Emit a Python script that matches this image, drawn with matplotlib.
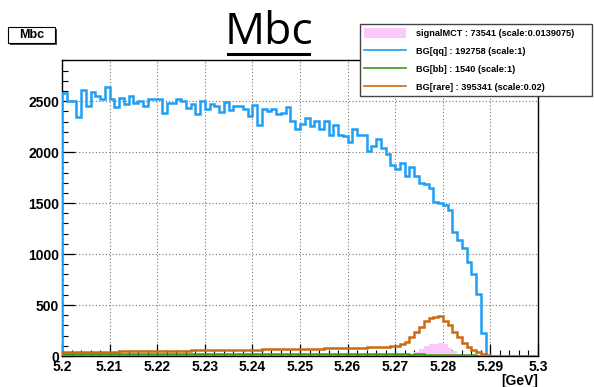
import numpy as np
import matplotlib
matplotlib.use("Agg")
import matplotlib.pyplot as plt
from matplotlib.ticker import MultipleLocator
from matplotlib.patches import Patch, Rectangle
from matplotlib.lines import Line2D

plt.rcParams['font.family'] = ['Liberation Sans', 'DejaVu Sans']

# binning of the Mbc histograms
x_lo, x_hi, n_bins = 5.2, 5.3, 100

# BG[qq] (scale 1)
bg_qq = [
    2584, 2500, 2500, 2340, 2607, 2450, 2590, 2548, 2525, 2640,
    2519, 2443, 2535, 2470, 2551, 2486, 2500, 2453, 2519, 2519,
    2519, 2380, 2486, 2486, 2525, 2500, 2433, 2476, 2378, 2500,
    2420, 2476, 2453, 2394, 2493, 2411, 2453, 2453, 2420, 2355,
    2465, 2271, 2428, 2405, 2420, 2372, 2385, 2443, 2303, 2225,
    2280, 2336, 2254, 2306, 2231, 2306, 2172, 2264, 2172, 2156,
    2100, 2231, 2172, 2166, 2016, 2059, 2127, 2036, 1980, 1872,
    1830, 1889, 1765, 1855, 1765, 1699, 1683, 1653, 1512, 1505,
    1480, 1431, 1218, 1137, 1055, 924, 800, 604, 222, 0,
    0, 0, 0, 0, 0, 0, 0, 0, 0, 0,
]

# BG[bb] (scale 1)
bg_bb = [
    22, 18, 20, 24, 19, 21, 23, 20, 18, 22,
    21, 19, 23, 20, 22, 18, 21, 24, 20, 19,
    22, 20, 18, 21, 23, 19, 20, 22, 21, 18,
    20, 23, 19, 21, 20, 18, 22, 20, 19, 21,
    20, 22, 18, 20, 21, 19, 23, 20, 18, 21,
    19, 20, 22, 18, 20, 21, 19, 20, 18, 19,
    20, 18, 19, 17, 20, 18, 16, 19, 17, 16,
    18, 15, 16, 14, 17, 15, 13, 14, 12, 13,
    12, 11, 10, 9, 8, 6, 5, 3, 2, 0,
    0, 0, 0, 0, 0, 0, 0, 0, 0, 0,
]

# BG[rare] (scale 0.02)
bg_rare = [
    38, 38, 39, 40, 40, 41, 41, 42, 42, 43,
    44, 44, 45, 45, 46, 46, 47, 48, 48, 49,
    49, 50, 51, 51, 52, 52, 53, 54, 54, 55,
    56, 56, 57, 58, 58, 59, 60, 60, 61, 62,
    62, 63, 64, 65, 65, 66, 67, 68, 68, 69,
    70, 71, 72, 72, 73, 74, 75, 76, 77, 78,
    79, 80, 81, 82, 84, 85, 87, 89, 91, 95,
    101, 114, 140, 189, 232, 287, 346, 375, 385, 392,
    346, 304, 238, 183, 130, 91, 59, 42, 20, 6,
    3, 2, 2, 1, 1, 1, 1, 1, 0, 0,
]

# signalMCT (scale 0.0139075)
signal = [
    0, 0, 0, 0, 0, 0, 0, 0, 0, 0,
    0, 0, 0, 0, 0, 0, 0, 0, 0, 0,
    0, 0, 0, 0, 0, 0, 0, 0, 0, 0,
    0, 0, 0, 0, 0, 0, 0, 0, 0, 0,
    0, 0, 0, 0, 0, 0, 0, 0, 0, 0,
    0, 0, 0, 0, 0, 0, 0, 0, 0, 0,
    1, 1, 1, 1, 2, 2, 2, 3, 3, 3,
    4, 6, 10, 20, 37, 64, 96, 113, 122, 129,
    113, 80, 47, 22, 9, 4, 2, 1, 0, 0,
    0, 0, 0, 0, 0, 0, 0, 0, 0, 0,
]

labels = [
    "signalMCT : 73541 (scale:0.0139075)",
    "BG[qq] : 192758 (scale:1)",
    "BG[bb] : 1540 (scale:1)",
    "BG[rare] : 395341 (scale:0.02)",
]
x_ticklabels = ["5.2", "5.21", "5.22", "5.23", "5.24", "5.25",
                "5.26", "5.27", "5.28", "5.29", "5.3"]

c_sig = '#fcc8fc'
c_qq = '#1e9ef5'
c_bb = '#3c9c14'
c_rare = '#cc6a14'

edges = np.linspace(x_lo, x_hi, n_bins + 1)

fig = plt.figure(figsize=(5.94, 3.87), dpi=100)
ax = fig.add_axes([62/594, 1 - 356/387, 476/594, 296/387])

ax.stairs(signal, edges, fill=True, color=c_sig, zorder=2)
ax.stairs(bg_qq, edges, color=c_qq, lw=1.8, zorder=3)
ax.stairs(bg_bb, edges, color=c_bb, lw=1.8, zorder=4)
ax.stairs(bg_rare, edges, color=c_rare, lw=1.8, zorder=5)

ax.set_xlim(x_lo, x_hi)
ax.set_ylim(0, 1.1 * max(bg_qq))

ax.set_xticks(np.linspace(x_lo, x_hi, len(x_ticklabels)))
ax.set_xticklabels(x_ticklabels)
ax.xaxis.set_minor_locator(MultipleLocator(0.002))
ax.yaxis.set_major_locator(MultipleLocator(500))
ax.yaxis.set_minor_locator(MultipleLocator(100))
ax.tick_params(which='major', direction='in', length=9, width=0.9, labelsize=10)
ax.tick_params(axis='x', which='major', pad=3)
ax.tick_params(axis='y', which='major', pad=2)
ax.tick_params(which='minor', direction='in', length=4.5, width=0.8)
for lbl in ax.get_xticklabels() + ax.get_yticklabels():
    lbl.set_fontweight('bold')

ax.grid(True, which='major', linestyle=(0, (1, 2)), color='#777777', lw=0.8)
ax.set_axisbelow(True)
for s in ax.spines.values():
    s.set_linewidth(1.0)

fig.text(538/594, 1 - 381/387, "[GeV]", ha='right', va='center',
         fontsize=10, fontweight='bold')

# title with underline
fig.text(269/594, 1 - 33/387, "Mbc", ha='center', va='center',
         fontsize=32, family='Open Sans')
fig.add_artist(Line2D([228/594, 309/594], [1 - 54/387] * 2, lw=2.2, color='black'))

# small name box top-left
fig.add_artist(Rectangle((10/594, 1 - 45/387), 47/594, 16/387,
                         transform=fig.transFigure, fc='#444444', ec='none'))
fig.add_artist(Rectangle((8/594, 1 - 43/387), 47/594, 16/387,
                         transform=fig.transFigure, fc='white', ec='black', lw=0.8))
fig.text(31.5/594, 1 - 35/387, "Mbc", ha='center', va='center',
         fontsize=9, fontweight='bold')

handles = [
    Patch(fc=c_sig, ec='none'),
    Line2D([], [], color=c_qq, lw=1.2),
    Line2D([], [], color=c_bb, lw=1.2),
    Line2D([], [], color=c_rare, lw=1.2),
]
leg = fig.legend(handles, labels, loc='upper left',
                 bbox_to_anchor=(360/594, 1 - 97/387, 232/594, 73/387),
                 mode='expand', borderaxespad=0,
                 prop={'size': 6.6, 'weight': 'bold'},
                 handlelength=4.6, handleheight=1.2, handletextpad=1.1,
                 labelspacing=0.9, borderpad=0.45, fancybox=False,
                 framealpha=1, edgecolor='#444444')
leg.get_frame().set_linewidth(1.0)

fig.savefig("out.png", dpi=100)
